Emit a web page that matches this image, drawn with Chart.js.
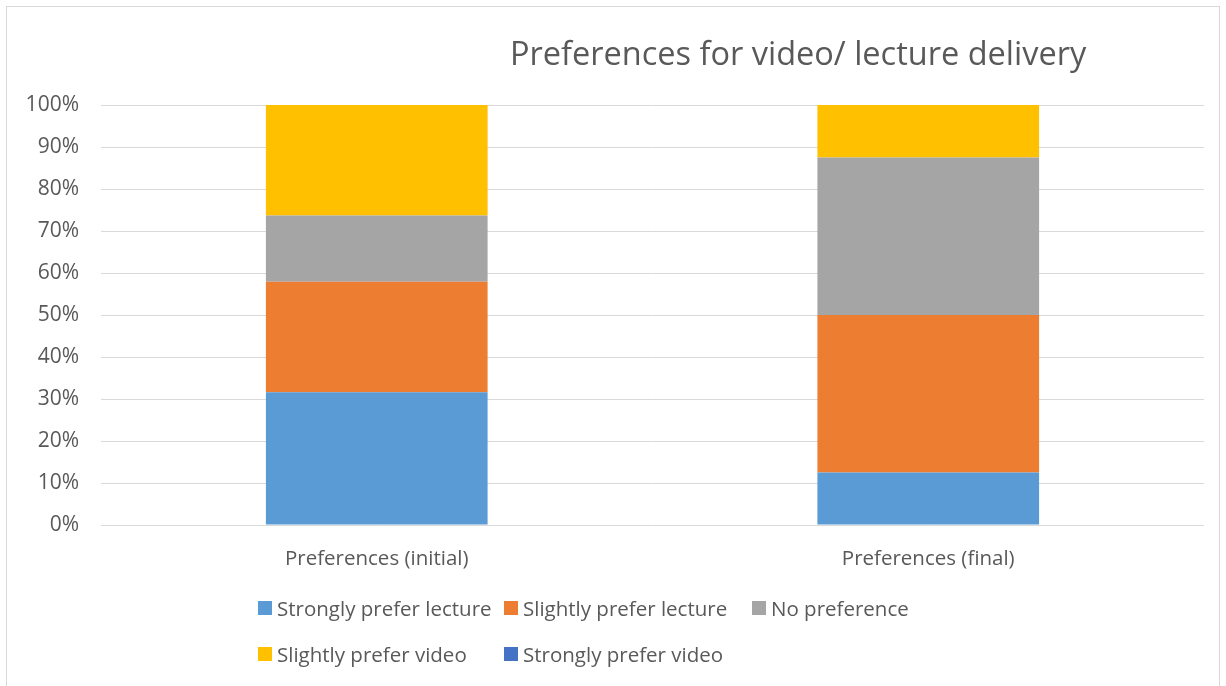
<!DOCTYPE html>
<html>
<head>
<meta charset="utf-8">
<script src="https://cdn.jsdelivr.net/npm/chart.js@4.4.1/dist/chart.umd.min.js"></script>
<style>
  html, body { margin: 0; padding: 0; background: #fff; }
  body { width: 1226px; height: 686px; position: relative; overflow: hidden; font-family: "Open Sans", Lato, sans-serif; color: #595959; }
  #frame { position: absolute; left: 6px; top: 6px; width: 1214px; height: 690px; border: 1px solid #d9d9d9; box-sizing: border-box; }
  #wrap { position: absolute; left: 0; top: 0; width: 1226px; height: 686px; }
  #title { position: absolute; left: 510px; top: 33px; font-size: 32.5px; line-height: 40px; white-space: nowrap; }
  #legend { position: absolute; left: 258px; top: 596px; display: grid; grid-template-columns: 246px 248px 247px; row-gap: 22px; font-size: 20.5px; }
  .item { display: flex; align-items: center; white-space: nowrap; height: 24px; }
  .sw { width: 14px; height: 14px; margin-right: 5px; flex: none; }
</style>
</head>
<body>
<div id="frame"></div>
<div id="wrap"><canvas id="chart" width="1226" height="686"></canvas></div>
<div id="title">Preferences for video/ lecture delivery</div>
<div id="legend"></div>
<script>
const categories = ['Preferences (initial)', 'Preferences (final)'];
const seriesNames = ['Strongly prefer lecture', 'Slightly prefer lecture', 'No preference', 'Slightly prefer video', 'Strongly prefer video'];
const stronglyLecture = [31.6, 12.5];
const slightlyLecture = [26.3, 37.5];
const noPreference = [15.8, 37.5];
const slightlyVideo = [26.3, 12.5];
const stronglyVideo = [0, 0];
const yTicks = [0, 10, 20, 30, 40, 50, 60, 70, 80, 90, 100];
const colors = ['#5B9BD5', '#ED7D31', '#A5A5A5', '#FFC000', '#4472C4'];

const values = [stronglyLecture, slightlyLecture, noPreference, slightlyVideo, stronglyVideo];

new Chart(document.getElementById('chart'), {
    type: 'bar',
    data: {
        labels: categories,
        datasets: seriesNames.map((name, i) => ({
            label: name,
            data: values[i],
            backgroundColor: colors[i],
            categoryPercentage: 1,
            barPercentage: 0.402
        }))
    },
    options: {
        responsive: false,
        animation: false,
        maintainAspectRatio: false,
        layout: { padding: { left: 0, right: 22, top: 105, bottom: 111 } },
        plugins: { legend: { display: false }, title: { display: false }, tooltip: { enabled: false } },
        scales: {
            x: {
                stacked: true,
                grid: { display: false },
                border: { display: false },
                ticks: { color: '#595959', font: { family: 'Open Sans', size: 20.5 }, padding: 14 },
                afterFit: s => { s.height = 50; }
            },
            y: {
                stacked: true,
                min: 0,
                max: 100,
                afterBuildTicks: s => { s.ticks = yTicks.map(v => ({ value: v })); },
                grid: { color: '#d9d9d9', lineWidth: 1, drawTicks: false },
                border: { display: false },
                ticks: { color: '#595959', font: { family: 'Open Sans', size: 21 }, padding: 22, callback: v => v + '%' },
                afterFit: s => { s.width = 101; }
            }
        }
    }
});

const legend = document.getElementById('legend');
seriesNames.forEach((name, i) => {
    const item = document.createElement('div');
    item.className = 'item';
    item.innerHTML = '<span class="sw" style="background:' + colors[i] + '"></span>' + name;
    legend.appendChild(item);
});
</script>
</body>
</html>
